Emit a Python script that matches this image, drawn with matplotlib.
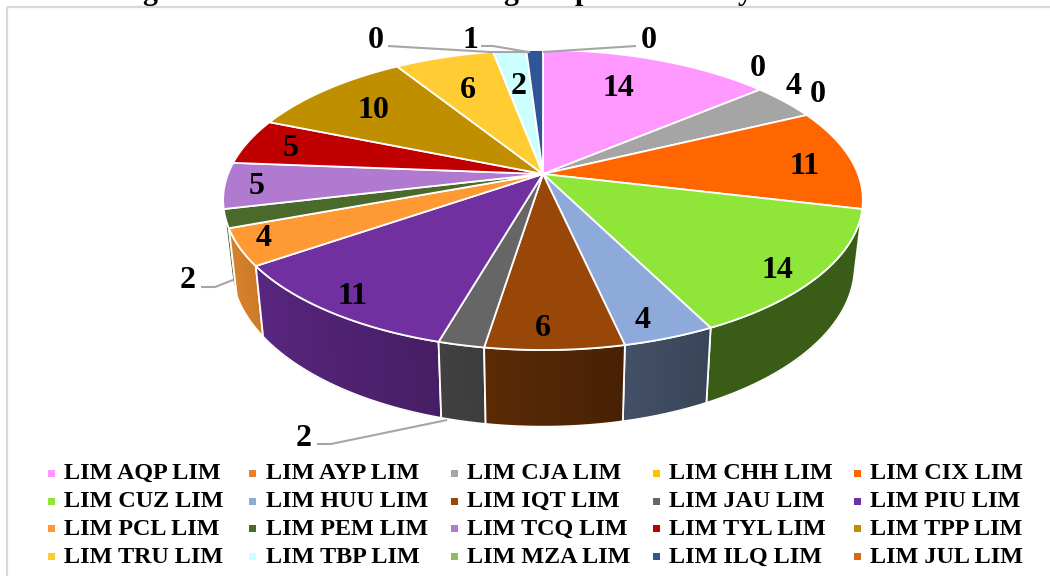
import numpy as np
import matplotlib
matplotlib.use('Agg')
import matplotlib.pyplot as plt
from matplotlib.patches import Polygon, Rectangle

plt.rcParams['font.family'] = ['Liberation Serif', 'DejaVu Serif']

# share per route, as printed on the slices
routes = ['LIM AQP LIM', 'LIM AYP LIM', 'LIM CJA LIM', 'LIM CHH LIM', 'LIM CIX LIM',
          'LIM CUZ LIM', 'LIM HUU LIM', 'LIM IQT LIM', 'LIM JAU LIM', 'LIM PIU LIM',
          'LIM PCL LIM', 'LIM PEM LIM', 'LIM TCQ LIM', 'LIM TYL LIM', 'LIM TPP LIM',
          'LIM TRU LIM', 'LIM TBP LIM', 'LIM MZA LIM', 'LIM ILQ LIM', 'LIM JUL LIM']
values = [14, 0, 4, 0, 11, 14, 4, 6, 2, 11, 4, 2, 5, 5, 10, 6, 2, 0, 1, 0]
colors = ['#FF99FF', '#ED7D31', '#A5A5A5', '#FFC000', '#FF6600',
          '#8FE639', '#8EAADB', '#984709', '#666666', '#7030A0',
          '#FF9933', '#4A6A2C', '#B07AD0', '#C00000', '#BF8F00',
          '#FFCC33', '#CCFFFF', '#8FBC63', '#2F5597', '#D2691E']

# label anchors in pixels, same order as values
label_xy = [(618, 86), (758, 66), (794, 83), (818, 91), (804, 163),
            (777, 267), (643, 318), (543, 326), (304, 436), (353, 293),
            (264, 235), (188, 278), (257, 184), (291, 146), (373, 108),
            (468, 87), (519, 83), (376, 38), (470, 38), (649, 38)]

# leader lines for the small slices
leaders = [[(388, 46), (490, 52), (530, 52)],
           [(481, 46), (493, 46), (528, 52)],
           [(636, 46), (543, 52)],
           [(201, 287), (215, 287), (233, 280)],
           [(317, 444), (331, 444), (447, 420)]]

# perspective of the two disc faces
CX = 543
TOP_Y, TOP_R, TOP_S = 174, 315, 145.5
BOT_Y, BOT_R, BOT_S = 238, 307, 156
K = 0.1733


def project(theta, y0, r, s):
    # theta in degrees, clockwise from 12 o'clock
    t = np.radians(theta)
    w = 1 + K * np.cos(t)
    return CX + r * np.sin(t) / w, y0 - s * np.cos(t) / w


def shade(color, theta):
    # side walls get darker towards the right
    f = np.interp(theta, [100, 153, 168, 189, 196, 235, 260],
                  [0.40, 0.40, 0.47, 0.60, 0.63, 0.80, 0.88])
    return tuple(c * f for c in matplotlib.colors.to_rgb(color))


fig = plt.figure(figsize=(10.5, 5.76), dpi=100)
ax = fig.add_axes([0, 0, 1, 1])
ax.set_xlim(0, 1050)
ax.set_ylim(576, 0)
ax.axis('off')

# chart frame, runs off the right and bottom edge
ax.add_patch(Rectangle((7, 7), 1100, 620, fill=False, ec='#D9D9D9', lw=1.6))

# title line is cut off at the top, only the descenders remain
for x, ch in [(150, 'g'), (511, 'g'), (583, 'p'), (745, 'y')]:
    ax.text(x, 0, ch, fontsize=21.6, fontweight='bold', ha='center', va='baseline')

edges = np.cumsum([0] + values) / sum(values) * 360
slices = [(a, b, c) for a, b, c in zip(edges[:-1], edges[1:], colors) if b > a]

# walls first, back to front, the top face covers the hidden part
slices_back = sorted(slices, key=lambda s: np.cos(np.radians((s[0] + s[1]) / 2)), reverse=True)
for a, b, c in slices_back:
    th = np.linspace(a, b, int(b - a) * 2 + 2)
    xt, yt = project(th, TOP_Y, TOP_R, TOP_S)
    xb, yb = project(th, BOT_Y, BOT_R, BOT_S)
    outline = list(zip(xt, yt)) + list(zip(xb[::-1], yb[::-1]))
    ax.add_patch(Polygon(outline, closed=True, fc=shade(c, (a + b) / 2), ec='none'))
    # narrow strips give the horizontal gradient, no antialiasing so no seams show
    for i in range(len(th) - 1):
        quad = [(xt[i], yt[i]), (xt[i + 1], yt[i + 1]), (xb[i + 1], yb[i + 1]), (xb[i], yb[i])]
        col = shade(c, (th[i] + th[i + 1]) / 2)
        ax.add_patch(Polygon(quad, closed=True, fc=col, ec='none', antialiased=False))
    ax.add_patch(Polygon(outline, closed=True, fill=False, ec='white', lw=1.3))

# top face
for a, b, c in slices:
    th = np.linspace(a, b, int(b - a) * 2 + 2)
    xt, yt = project(th, TOP_Y, TOP_R, TOP_S)
    pts = [(CX, TOP_Y)] + list(zip(xt, yt))
    ax.add_patch(Polygon(pts, closed=True, fc=c, ec='white', lw=1.3))

for line in leaders:
    ax.plot([p[0] for p in line], [p[1] for p in line], color='#A6A6A6', lw=1.5,
            solid_capstyle='butt')

# digits are about 22 px tall, baseline sits half of that below the anchor
for v, (x, y) in zip(values, label_xy):
    ax.text(x, y + 10.5, str(v), fontsize=23, fontweight='bold', ha='center', va='baseline')

# legend grid, filled row by row
leg_x = [51, 252.5, 454, 656, 857.5]
leg_y = [473, 501, 528.7, 556.6]
for i, (name, c) in enumerate(zip(routes, colors)):
    row, col = divmod(i, 5)
    ax.add_patch(Rectangle((leg_x[col] - 3.5, leg_y[row] - 3.5), 7, 7, fc=c, ec='none'))
    ax.text(leg_x[col] + 13, leg_y[row] + 6.3, name, fontsize=17.4, fontweight='bold',
            ha='left', va='baseline')

fig.savefig('out.png', dpi=100)
